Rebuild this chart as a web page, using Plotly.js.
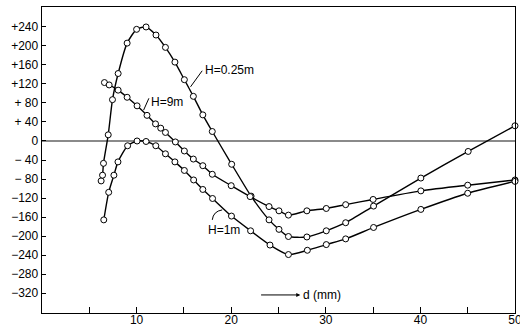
<!DOCTYPE html>
<html>
<head>
<meta charset="utf-8">
<script src="https://cdn.plot.ly/plotly-3.0.1.min.js"></script>
<style>
  html, body { margin: 0; padding: 0; background: #fff; }
  #chart { width: 520px; height: 326px; }
</style>
</head>
<body>
<div id="chart"></div>
<script>
// H = 0.25 m
const x025 = [6.25, 6.4, 6.5, 7.0, 7.45, 8.05, 9.0, 10.0, 11.0, 12.05, 13.05, 14.05, 15.05, 16.0, 17.0, 18.0, 20.05, 22.1, 24.0, 25.05, 26.05, 28.0, 30.05, 32.1, 35.05, 40.05, 45.05, 50.0];
const y025 = [-84, -72, -47, 13, 87, 142, 206, 235, 240, 223, 197, 166, 129, 94, 55, 20, -49, -116, -166, -186, -201, -202, -189, -172, -137, -78, -22, 32];
// H = 9 m
const x9 = [6.6, 7.1, 8.05, 9.0, 10.05, 11.1, 12.0, 12.55, 13.05, 14.1, 15.05, 16.0, 17.0, 18.0, 20.0, 22.0, 24.0, 25.05, 26.05, 28.0, 30.05, 32.1, 35.0, 40.05, 45.0, 50.0];
const y9 = [123, 118, 107, 92, 74, 54, 36, 27, 18, -2, -21, -38, -52, -70, -94, -117, -138, -147, -156, -147, -142, -134, -123, -105, -93, -82];
// H = 1 m
const x1 = [6.53, 7.05, 7.6, 8.03, 9.05, 10.05, 11.0, 12.03, 13.05, 14.05, 15.05, 16.03, 17.0, 18.03, 20.03, 22.05, 24.1, 26.05, 28.05, 30.05, 32.1, 35.05, 40.05, 45.0, 50.0];
const y1 = [-166, -108, -72, -44, -10, 0, -1, -10, -27, -44, -62, -82, -102, -121, -158, -189, -219, -239, -230, -218, -206, -182, -144, -110, -85];

const yTickVals = [240, 200, 160, 120, 80, 40, 0, -40, -80, -120, -160, -200, -240, -280, -320];
const yTickText = ['+240', '+200', '+160', '+120', '+ 80', '+ 40', '0', '\u2212 40', '\u2212 80', '\u2212120', '\u2212160', '\u2212200', '\u2212240', '\u2212280', '\u2212320'];
const xTickVals = [5, 10, 15, 20, 25, 30, 35, 40, 45, 50];
const xTickText = ['', '10', '', '20', '', '30', '', '40', '', '50'];

const FONT = 'Liberation Sans, Arial, sans-serif';

function series(x, y, name) {
  return {
    x: x, y: y, name: name, type: 'scatter', mode: 'lines+markers',
    line: {color: '#000', width: 1.4, shape: 'spline', smoothing: 0.6},
    marker: {symbol: 'circle', size: 6, color: '#fff', line: {color: '#000', width: 1}},
    hoverinfo: 'skip', cliponaxis: false
  };
}

const data = [series(x025, y025, 'H=0.25m'), series(x9, y9, 'H=9m'), series(x1, y1, 'H=1m')];

const layout = {
  width: 520, height: 326,
  margin: {l: 42, r: 5, t: 7, b: 13, pad: 0},
  paper_bgcolor: '#fff', plot_bgcolor: '#fff',
  showlegend: false,
  font: {family: FONT, size: 12, color: '#000'},
  xaxis: {
    range: [0, 50], showgrid: false, zeroline: false,
    showline: true, linecolor: '#000', linewidth: 1.4, mirror: true,
    ticks: 'inside', ticklen: 6, tickwidth: 1, tickcolor: '#000',
    tickvals: xTickVals, ticktext: xTickText,
    ticklabelstandoff: -5, ticklabeloverflow: 'allow',
    tickfont: {family: FONT, size: 12, color: '#000'}
  },
  yaxis: {
    range: [-362, 282], showgrid: false,
    zeroline: true, zerolinecolor: '#8a8a8a', zerolinewidth: 1.2,
    showline: true, linecolor: '#000', linewidth: 1.4, mirror: true,
    ticks: 'inside', ticklen: 4, tickwidth: 1, tickcolor: '#000',
    tickvals: yTickVals, ticktext: yTickText,
    tickfont: {family: FONT, size: 12, color: '#000'}
  },
  annotations: [
    {x: 17.0, y: 150, xref: 'x', yref: 'y', text: 'H=0.25m', showarrow: false, xanchor: 'left', yanchor: 'middle', font: {family: FONT, size: 12}},
    {x: 15.7, y: 114, xref: 'x', yref: 'y', ax: 17.05, ay: 151, axref: 'x', ayref: 'y', text: '', showarrow: true, arrowhead: 0, arrowwidth: 1, arrowcolor: '#000', standoff: 0, startstandoff: 0},
    {x: 11.3, y: 82, xref: 'x', yref: 'y', text: 'H=9m', showarrow: false, xanchor: 'left', yanchor: 'middle', font: {family: FONT, size: 12}},
    {x: 10.74, y: 65, xref: 'x', yref: 'y', ax: 11.37, ay: 93, axref: 'x', ayref: 'y', text: '', showarrow: true, arrowhead: 0, arrowwidth: 1, arrowcolor: '#000', standoff: 0, startstandoff: 0},
    {x: 17.3, y: -187, xref: 'x', yref: 'y', text: 'H=1m', showarrow: false, xanchor: 'left', yanchor: 'middle', font: {family: FONT, size: 12}},
    {x: 27.3, y: -324, xref: 'x', yref: 'y', ax: 23.0, ay: -324, axref: 'x', ayref: 'y', text: '', showarrow: true, arrowhead: 2, arrowsize: 0.8, arrowwidth: 1, arrowcolor: '#000', standoff: 0},
    {x: 27.4, y: -324, xref: 'x', yref: 'y', text: 'd (mm)', showarrow: false, xanchor: 'left', yanchor: 'middle', font: {family: FONT, size: 12}}
  ],
  shapes: [
    {type: 'path', xref: 'x', yref: 'y', path: 'M 18.0,-166 Q 18.1,-148 19.05,-145', line: {color: '#000', width: 1}}
  ]
};

Plotly.newPlot('chart', data, layout, {staticPlot: true, displayModeBar: false});
</script>
</body>
</html>
